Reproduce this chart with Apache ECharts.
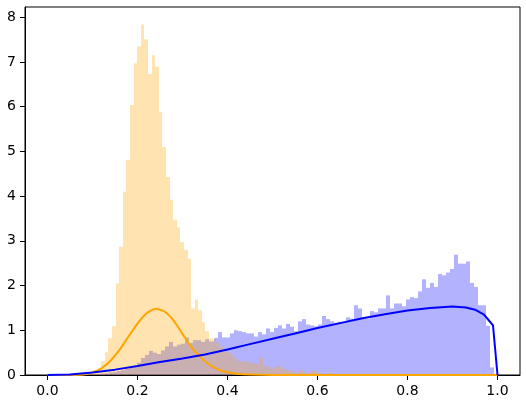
<!DOCTYPE html>
<html>
<head>
<meta charset="utf-8">
<script src="https://cdn.jsdelivr.net/npm/echarts@6/dist/echarts.min.js"></script>
<style>
  html, body { margin: 0; padding: 0; background: #fff; }
  #chart { width: 526px; height: 401px; }
</style>
</head>
<body>
<div id="chart"></div>
<script>
// histogram bins (density)
const orangeBinStart = 0.0954
const orangeBinWidth = 0.00799
const orangeHeights = [
  0.03, 0.07, 0.15, 0.31, 0.51, 0.82, 1.09, 2.05, 2.87, 4.10,
  4.81, 6.04, 6.97, 7.35, 7.84, 7.51, 6.73, 7.15, 6.90, 5.88,
  5.10, 4.43, 3.92, 3.47, 3.30, 2.97, 2.80, 2.60, 1.49, 1.69,
  1.45, 1.18, 0.98, 0.82, 0.80, 0.72, 0.63, 0.52, 0.50, 0.45,
  0.37, 0.30, 0.31, 0.30, 0.27, 0.26, 0.25, 0.39, 0.20, 0.19,
  0.14, 0.18, 0.20, 0.14, 0.12, 0.10, 0.08, 0.05, 0.11, 0.05,
  0.04, 0.09, 0.10, 0.04, 0.03, 0.02, 0.06, 0.02, 0.02, 0.01,
  0.01, 0, 0.01, 0.01
]

const blueBinStart = 0.1016
const blueBinWidth = 0.00891
const blueHeights = [
  0.01, 0.02, 0.03, 0.04, 0.06, 0.07, 0.09, 0.11, 0.14, 0.16,
  0.20, 0.27, 0.38, 0.45, 0.54, 0.50, 0.47, 0.55, 0.64, 0.74,
  0.64, 0.68, 0.70, 0.84, 0.72, 0.78, 0.78, 0.74, 0.80, 0.75,
  0.83, 0.96, 0.84, 0.84, 0.93, 1.00, 0.98, 0.96, 0.93, 0.93,
  0.86, 0.96, 0.91, 1.04, 0.96, 1.05, 1.11, 1.04, 1.14, 1.08,
  0.98, 1.20, 1.25, 1.13, 1.11, 1.09, 1.13, 1.32, 1.25, 1.20,
  1.17, 1.19, 1.19, 1.29, 1.26, 1.56, 1.49, 1.28, 1.26, 1.43,
  1.40, 1.49, 1.49, 1.78, 1.49, 1.60, 1.60, 1.54, 1.69, 1.74,
  1.72, 1.87, 2.14, 1.95, 2.06, 1.97, 2.26, 2.23, 2.29, 2.37,
  2.69, 2.49, 2.49, 2.54, 2.06, 1.97, 1.56, 1.56, 1.10, 0.17
]

// density curves
const orangeCurve = [
  [0, 0], [0.05, 0], [0.08, 0.01], [0.10, 0.06], [0.12, 0.15],
  [0.14, 0.32], [0.16, 0.56], [0.18, 0.86], [0.20, 1.15], [0.22, 1.38],
  [0.24, 1.48], [0.26, 1.42], [0.28, 1.22], [0.30, 0.92], [0.32, 0.62],
  [0.34, 0.40], [0.36, 0.23], [0.38, 0.12], [0.40, 0.06], [0.42, 0.03],
  [0.45, 0.01], [0.50, 0], [1.0, 0]
]
const blueCurve = [
  [0, 0], [0.05, 0.01], [0.10, 0.055], [0.15, 0.12], [0.20, 0.20],
  [0.25, 0.29], [0.30, 0.37], [0.35, 0.46], [0.40, 0.57], [0.45, 0.69],
  [0.50, 0.81], [0.55, 0.93], [0.60, 1.05], [0.65, 1.16], [0.70, 1.27],
  [0.75, 1.36], [0.80, 1.44], [0.85, 1.50], [0.90, 1.53], [0.93, 1.51],
  [0.95, 1.46], [0.97, 1.35], [0.98, 1.23], [0.99, 1.11], [1.0, 0]
]

const xTicks = [0, 0.2, 0.4, 0.6, 0.8, 1.0]
const yTicks = [0, 1, 2, 3, 4, 5, 6, 7, 8]

function toBins(start, width, heights) {
  return heights.map((h, i) => [start + i * width, start + (i + 1) * width, h])
}

function histSeries(data, color) {
  return {
    type: 'custom',
    data: data,
    encode: { x: [0, 1], y: 2 },
    renderItem: (params, api) => {
      const top = api.coord([api.value(0), api.value(2)])
      const bottom = api.coord([api.value(1), 0])
      // snap the sides to whole pixels so neighbouring bars don't leave seams
      const x0 = Math.round(top[0])
      const x1 = Math.round(bottom[0])
      return {
        type: 'rect',
        shape: { x: x0, y: top[1], width: x1 - x0, height: bottom[1] - top[1] },
        style: { fill: color }
      }
    }
  }
}

const font = { color: '#000', fontSize: 14, fontFamily: 'DejaVu Sans' }

const chart = echarts.init(document.getElementById('chart'))
chart.setOption({
  animation: false,
  grid: {
    left: 25, right: 6, top: 7, bottom: 26,
    show: true, borderColor: '#000', borderWidth: 1
  },
  xAxis: {
    type: 'value',
    min: -0.05,
    max: 1.05,
    splitLine: { show: false },
    axisLine: { onZero: false, lineStyle: { color: '#000', width: 1 } },
    axisTick: { customValues: xTicks, length: 5, lineStyle: { color: '#000', width: 1 } },
    axisLabel: { customValues: xTicks, margin: 9, formatter: v => v.toFixed(1), ...font }
  },
  yAxis: {
    type: 'value',
    min: 0,
    max: 8.23,
    splitLine: { show: false },
    axisLine: { show: true, onZero: false, lineStyle: { color: '#000', width: 1 } },
    axisTick: { show: true, customValues: yTicks, length: 5, lineStyle: { color: '#000', width: 1 } },
    axisLabel: { customValues: yTicks, margin: 9, ...font }
  },
  series: [
    histSeries(toBins(blueBinStart, blueBinWidth, blueHeights), 'rgba(0, 0, 255, 0.3)'),
    histSeries(toBins(orangeBinStart, orangeBinWidth, orangeHeights), 'rgba(255, 165, 0, 0.3)'),
    {
      type: 'line',
      data: orangeCurve,
      showSymbol: false,
      smooth: 0.2,
      lineStyle: { color: '#ffa500', width: 2 },
      z: 3
    },
    {
      type: 'line',
      data: blueCurve,
      showSymbol: false,
      lineStyle: { color: '#0000ff', width: 2 },
      z: 4
    }
  ]
})
</script>
</body>
</html>
